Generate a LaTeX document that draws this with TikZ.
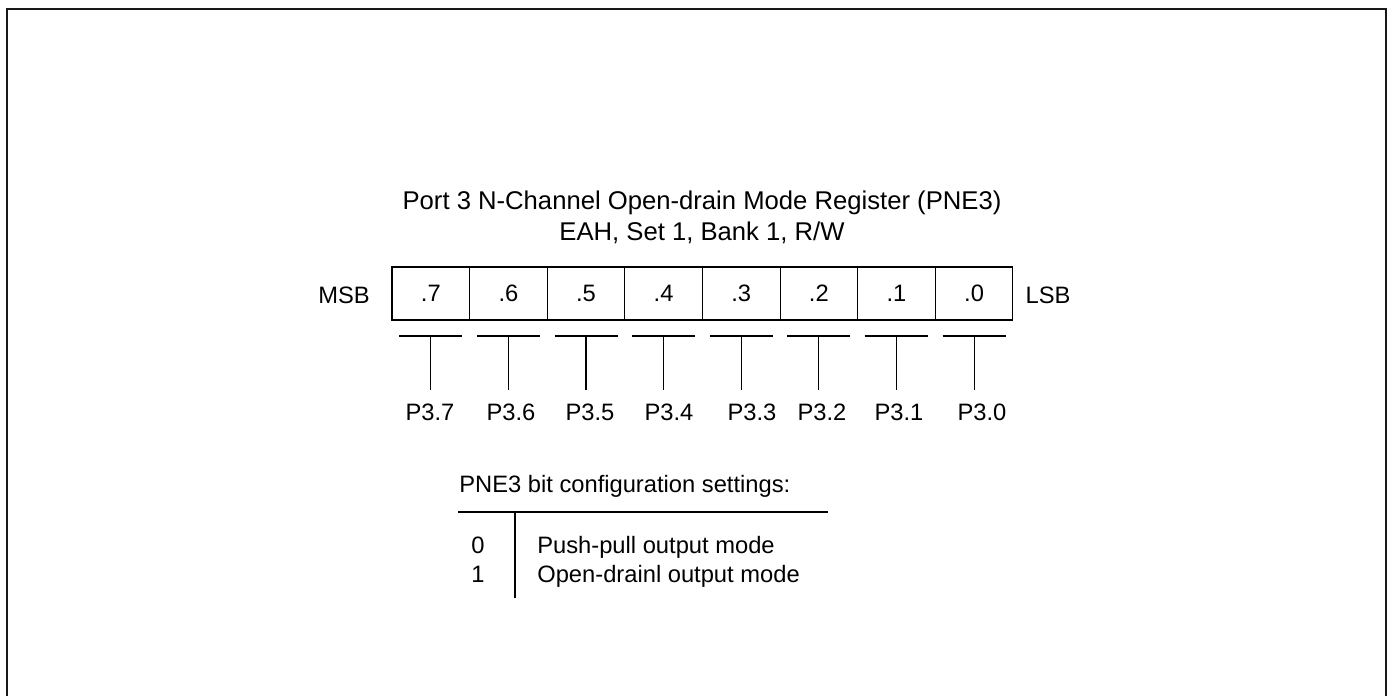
\documentclass[tikz,border=0pt]{standalone}
\usepackage{fontspec}
\setmainfont{Liberation Sans}
\usepackage{tikz}
\usetikzlibrary{positioning}

\begin{document}
\begin{tikzpicture}[x=0.02cm, y=-0.02cm,
    frame/.style={black!90, line width=1.2pt},
    cell/.style={draw, line width=0.6pt, inner sep=0pt, outer sep=0pt,
                 minimum width=1.5525cm, minimum height=1.06cm},
    tick/.style={line width=0.6pt},
    lbl/.style={inner sep=0pt, anchor=base},
    titel/.style={lbl, font=\fontsize{14.6}{17}\selectfont},
    every node/.style={font=\fontsize{13.5}{16}\selectfont}
  ]
  \useasboundingbox (0,0) rectangle (1393,696);

  % Rahmen (unten offen)
  \draw[frame] (7,700) -- (7,9) -- (1386,9) -- (1386,700);

  % Titel
  \node[titel] (title) at (702,209) {Port 3 N-Channel Open-drain Mode Register (PNE3)};
  \node[titel] (addr) at (702,240) {EAH, Set 1, Bank 1, R/W};

  % Register
  \node[cell] (c7) at (430.8,293.5) {.7};
  \node[cell, right=0pt of c7] (c6) {.6};
  \node[cell, right=0pt of c6] (c5) {.5};
  \node[cell, right=0pt of c5] (c4) {.4};
  \node[cell, right=0pt of c4] (c3) {.3};
  \node[cell, right=0pt of c3] (c2) {.2};
  \node[cell, right=0pt of c2] (c1) {.1};
  \node[cell, right=0pt of c1] (c0) {.0};
  \node[lbl] (msb) at (344,303) {MSB};
  \node[lbl] (lsb) at (1048,303) {LSB};

  % Anschluesse
  \coordinate (barrow) at (0,336);
  \coordinate (pinrow) at (0,390);
  \coordinate (t7) at (c7.south |- barrow);
  \coordinate (t6) at (c6.south |- barrow);
  \coordinate (t5) at (c5.south |- barrow);
  \coordinate (t4) at (c4.south |- barrow);
  \coordinate (t3) at (c3.south |- barrow);
  \coordinate (t2) at (c2.south |- barrow);
  \coordinate (t1) at (c1.south |- barrow);
  \coordinate (t0) at (c0.south |- barrow);
  \draw[tick] ([xshift=-0.63cm]t7) -- ([xshift=0.63cm]t7) (t7) -- (t7 |- pinrow);
  \draw[tick] ([xshift=-0.63cm]t6) -- ([xshift=0.63cm]t6) (t6) -- (t6 |- pinrow);
  \draw[tick] ([xshift=-0.63cm]t5) -- ([xshift=0.63cm]t5) (t5) -- (t5 |- pinrow);
  \draw[tick] ([xshift=-0.63cm]t4) -- ([xshift=0.63cm]t4) (t4) -- (t4 |- pinrow);
  \draw[tick] ([xshift=-0.63cm]t3) -- ([xshift=0.63cm]t3) (t3) -- (t3 |- pinrow);
  \draw[tick] ([xshift=-0.63cm]t2) -- ([xshift=0.63cm]t2) (t2) -- (t2 |- pinrow);
  \draw[tick] ([xshift=-0.63cm]t1) -- ([xshift=0.63cm]t1) (t1) -- (t1 |- pinrow);
  \draw[tick] ([xshift=-0.63cm]t0) -- ([xshift=0.63cm]t0) (t0) -- (t0 |- pinrow);

  % Pins
  \node[lbl] (p7) at (430,420) {P3.7};
  \node[lbl] (p6) at (511,420) {P3.6};
  \node[lbl] (p5) at (590,420) {P3.5};
  \node[lbl] (p4) at (669,420) {P3.4};
  \node[lbl] (p3) at (752,420) {P3.3};
  \node[lbl] (p2) at (822,420) {P3.2};
  \node[lbl] (p1) at (899,420) {P3.1};
  \node[lbl] (p0) at (982,420) {P3.0};

  % Einstellungen
  \node[lbl, anchor=base west] (head) at (459,492) {PNE3 bit configuration settings:};
  \coordinate (hl) at (458,512);
  \coordinate (hr) at (828,512);
  \coordinate (vt) at (515,512);
  \coordinate (vb) at (515,598);
  \draw[tick] (hl) -- (hr);
  \draw[tick] (vt) -- (vb);
  \node[lbl] (v0) at (478,553) {0};
  \node[lbl] (v1) at (478,582) {1};
  \node[lbl, anchor=base west] (m0) at (537,553) {Push-pull output mode};
  \node[lbl, anchor=base west] (m1) at (537,582) {Open-drainl output mode};
\end{tikzpicture}
\end{document}
